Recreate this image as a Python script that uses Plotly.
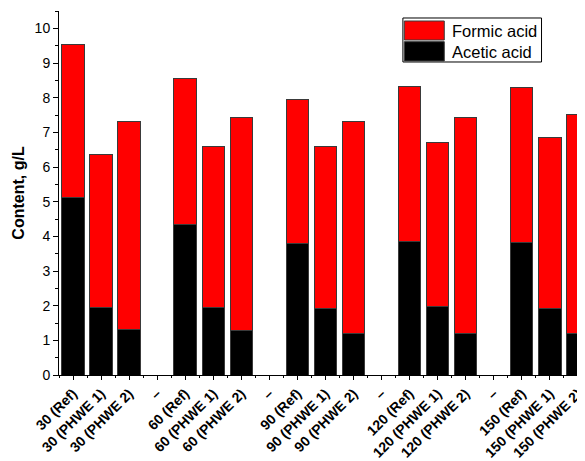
import plotly.graph_objects as go

categories = ["30 (Ref)", "30 (PHWE 1)", "30 (PHWE 2)", "gap1",
              "60 (Ref)", "60 (PHWE 1)", "60 (PHWE 2)", "gap2",
              "90 (Ref)", "90 (PHWE 1)", "90 (PHWE 2)", "gap3",
              "120 (Ref)", "120 (PHWE 1)", "120 (PHWE 2)", "gap4",
              "150 (Ref)", "150 (PHWE 1)", "150 (PHWE 2)"]
tick_labels = ["30 (Ref)", "30 (PHWE 1)", "30 (PHWE 2)", "–",
               "60 (Ref)", "60 (PHWE 1)", "60 (PHWE 2)", "–",
               "90 (Ref)", "90 (PHWE 1)", "90 (PHWE 2)", "–",
               "120 (Ref)", "120 (PHWE 1)", "120 (PHWE 2)", "–",
               "150 (Ref)", "150 (PHWE 1)", "150 (PHWE 2)"]
acetic_acid = [5.12, 1.96, 1.30, None,
               4.35, 1.96, 1.27, None,
               3.80, 1.93, 1.20, None,
               3.84, 1.97, 1.21, None,
               3.82, 1.91, 1.20]
formic_acid = [4.42, 4.41, 6.02, None,
               4.19, 4.63, 6.17, None,
               4.14, 4.67, 6.10, None,
               4.48, 4.74, 6.23, None,
               4.47, 4.95, 6.32]
series_names = ["Formic acid", "Acetic acid"]
series_colors = {"Formic acid": "#FF0000", "Acetic acid": "#000000"}

positions = list(range(len(categories)))
boundaries = [p + 0.5 for p in positions[:-1]] + [-0.5]

FONT = "Arial, Liberation Sans, sans-serif"
outline = dict(color="#3a3a3a", width=1)

fig = go.Figure()
fig.add_trace(go.Bar(x=positions, y=acetic_acid, name="Acetic acid",
                     marker=dict(color=series_colors["Acetic acid"], line=outline), width=0.8))
fig.add_trace(go.Bar(x=positions, y=formic_acid, name="Formic acid",
                     marker=dict(color=series_colors["Formic acid"], line=outline), width=0.8))

fig.update_layout(
    width=585, height=461,
    barmode="stack",
    showlegend=False,
    plot_bgcolor="white", paper_bgcolor="white",
    margin=dict(l=51, r=0, t=3, b=94),
    font=dict(family=FONT, color="black"),
)

# Legend box drawn in plot-area (paper) coordinates
fig.add_shape(type="rect", xref="paper", yref="paper",
              x0=0.644, x1=0.9036, y0=0.8599, y1=0.9808,
              line=dict(color="black", width=1), fillcolor="white", layer="above")
swatch_y = [(0.9203, 0.9725), (0.8626, 0.9157)]
text_y = [0.9451, 0.8882]
for name, (y0, y1), ty in zip(series_names, swatch_y, text_y):
    fig.add_shape(type="rect", xref="paper", yref="paper",
                  x0=0.6466, x1=0.7215, y0=y0, y1=y1,
                  line=dict(color="#3a3a3a", width=1),
                  fillcolor=series_colors[name], layer="above")
    fig.add_annotation(xref="paper", yref="paper", x=0.7322, y=ty,
                       text=name, showarrow=False, xanchor="left", yanchor="middle",
                       font=dict(size=16.5, family=FONT, color="black"))

fig.update_xaxes(
    range=[-0.5, 18.54], tickmode="array", tickvals=positions, ticktext=tick_labels,
    tickangle=-45, ticks="outside", ticklen=4, tickcolor="black",
    tickfont=dict(size=14, family=FONT, weight="bold"),
    showline=True, linecolor="black", linewidth=1, showgrid=False, zeroline=False,
    minor=dict(tickmode="array", tickvals=boundaries, ticks="outside", ticklen=2,
               tickcolor="black", showgrid=False),
)
fig.update_yaxes(
    range=[0, 10.5], dtick=1, tick0=0, ticks="outside", ticklen=5, tickcolor="black",
    tickfont=dict(size=14, family=FONT),
    showline=True, linecolor="black", linewidth=1, showgrid=False, zeroline=False,
    minor=dict(dtick=0.5, ticks="outside", ticklen=3, tickcolor="black", showgrid=False),
    title=dict(text="Content, g/L", font=dict(size=16, family=FONT, weight="bold"), standoff=6),
)

fig.write_html("out.html")
